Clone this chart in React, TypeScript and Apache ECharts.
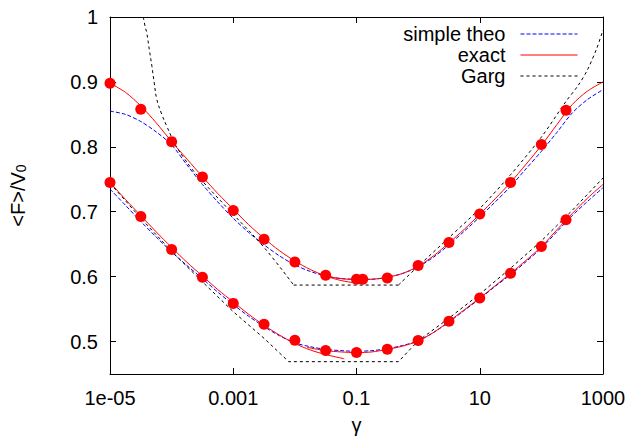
import React, { useEffect, useRef } from 'react';
import * as echarts from 'echarts';

// x tick labels (every two decades of gamma)
const xTickLabels = ['1e-05', '0.001', '0.1', '10', '1000'];

// quarter-decade gamma grid used by the theory curves
const gammaQ = [1e-5, 1.78e-5, 3.16e-5, 5.62e-5, 1e-4, 1.78e-4, 3.16e-4, 5.62e-4, 1e-3, 1.78e-3, 3.16e-3, 5.62e-3,
  0.01, 0.0178, 0.0316, 0.0562, 0.1, 0.178, 0.316, 0.562, 1, 1.78, 3.16, 5.62, 10, 17.8, 31.6, 56.2, 100, 178, 316, 562, 1000];

// simple theo
const simpleUpper = [0.855, 0.850, 0.839, 0.823, 0.803, 0.772, 0.742, 0.715, 0.690, 0.668, 0.649, 0.632, 0.618, 0.608, 0.601, 0.597,
  0.596, 0.596, 0.599, 0.605, 0.615, 0.630, 0.649, 0.670, 0.692, 0.715, 0.739, 0.766, 0.793, 0.822, 0.852, 0.873, 0.888];
const simpleLower = [0.735, 0.710, 0.685, 0.661, 0.638, 0.617, 0.597, 0.576, 0.557, 0.539, 0.523, 0.509, 0.498, 0.492, 0.488, 0.486,
  0.485, 0.486, 0.489, 0.494, 0.501, 0.514, 0.530, 0.548, 0.566, 0.585, 0.603, 0.623, 0.644, 0.669, 0.694, 0.716, 0.737];

// exact (low-gamma and high-gamma branches)
const exactUpperLowG = [1e-5, 1.78e-5, 3.16e-5, 5.62e-5, 1e-4, 1.78e-4, 3.16e-4, 5.62e-4, 1e-3, 1.78e-3, 3.16e-3, 5.62e-3,
  0.01, 0.0178, 0.0316, 0.0562, 0.1, 0.126];
const exactUpperLowV = [0.898, 0.884, 0.863, 0.837, 0.808, 0.781, 0.754, 0.728, 0.704, 0.680, 0.659, 0.640, 0.624, 0.611, 0.601, 0.594, 0.590, 0.589];
const exactUpperHighG = [0.0251, 0.0316, 0.0562, 0.1, 0.178, 0.316, 0.562, 1, 1.78, 3.16, 5.62, 10, 17.8, 31.6, 56.2, 100, 178, 316, 562, 1000];
const exactUpperHighV = [0.604, 0.601, 0.597, 0.5955, 0.596, 0.599, 0.605, 0.616, 0.632, 0.652, 0.673, 0.696, 0.720, 0.745, 0.773, 0.802, 0.834, 0.865, 0.886, 0.900];
const exactLowerLowG = [1e-5, 1.78e-5, 3.16e-5, 5.62e-5, 1e-4, 1.78e-4, 3.16e-4, 5.62e-4, 1e-3, 1.78e-3, 3.16e-3, 5.62e-3,
  0.01, 0.0178, 0.0316, 0.0631];
const exactLowerLowV = [0.745, 0.719, 0.694, 0.669, 0.645, 0.622, 0.601, 0.580, 0.561, 0.542, 0.525, 0.510, 0.497, 0.487, 0.480, 0.4735];
const exactLowerHighG = [0.0158, 0.0316, 0.0562, 0.1, 0.178, 0.316, 0.562, 1, 1.78, 3.16, 5.62, 10, 17.8, 31.6, 56.2, 100, 178, 316, 562, 1000];
const exactLowerHighV = [0.491, 0.486, 0.484, 0.483, 0.484, 0.488, 0.493, 0.501, 0.514, 0.531, 0.549, 0.567, 0.586, 0.605, 0.625, 0.646, 0.672, 0.697, 0.721, 0.742];

// Garg (upper: divergent left arm, flat floor, rising right arm)
const gargUpperLeftG = [3.47e-5, 3.72e-5, 3.94e-5, 4.37e-5, 4.79e-5, 5.25e-5, 5.75e-5, 6.92e-5, 8.32e-5, 1e-4, 1.2e-4, 1.58e-4, 2.09e-4,
  3.16e-4, 1e-3, 3.16e-3, 9.55e-3];
const gargUpperLeftV = [1.0, 0.985, 0.976, 0.948, 0.924, 0.897, 0.873, 0.850, 0.832, 0.815, 0.800, 0.783, 0.767,
  0.747, 0.696, 0.645, 0.587];
const gargUpperFlatG = [9.55e-3, 0.479];
const gargUpperFlatV = [0.587, 0.587];
const gargUpperRightG = [0.479, 1, 3.16, 10, 31.6, 100, 251, 398, 562, 794, 1000];
const gargUpperRightV = [0.587, 0.616, 0.660, 0.705, 0.757, 0.815, 0.870, 0.895, 0.919, 0.952, 0.980];
const gargLowerG = [1e-5, 3.16e-5, 1e-4, 3.16e-4, 1e-3, 3.16e-3, 7.94e-3, 0.479, 1, 3.16, 10, 31.6, 100, 316, 1000];
const gargLowerV = [0.744, 0.690, 0.639, 0.592, 0.546, 0.505, 0.469, 0.469, 0.501, 0.536, 0.573, 0.613, 0.655, 0.702, 0.752];

// simulation points
const pointsUpperG = [1e-5, 3.16e-5, 1e-4, 3.16e-4, 1e-3, 3.16e-3, 0.01, 0.0316, 0.1, 0.126, 0.316, 1, 3.16, 10, 31.6, 100, 251];
const pointsUpperV = [0.898, 0.858, 0.808, 0.7535, 0.702, 0.6577, 0.6226, 0.602, 0.5959, 0.596, 0.598, 0.617, 0.6525, 0.6964, 0.7452, 0.8035, 0.8565];
const pointsLowerG = [1e-5, 3.16e-5, 1e-4, 3.16e-4, 1e-3, 3.16e-3, 0.01, 0.0316, 0.1, 0.316, 1, 3.16, 10, 31.6, 100, 251];
const pointsLowerV = [0.745, 0.6927, 0.6417, 0.599, 0.5588, 0.5268, 0.502, 0.4862, 0.4831, 0.4882, 0.5016, 0.5314, 0.567, 0.6052, 0.6463, 0.6876];

const toX = (g: number) => Math.log10(g) + 5;
const pairs = (gs: number[], vs: number[]) => gs.map((g, i) => [toX(g), vs[i]]);

export default function App() {
  const ref = useRef<HTMLDivElement>(null);
  useEffect(() => {
    const chart = echarts.init(ref.current!, null, { renderer: 'svg' });
    const font = 'Liberation Sans';
    const fs = 20;
    const blue = '#0000ff';
    const red = '#ff0000';
    const black = '#000000';
    const mkLine = (name: string, data: number[][], color: string, type: any, smooth: any, z: number) => ({
      type: 'line', name, data, showSymbol: false, symbol: 'none', smooth, z,
      lineStyle: { color, width: 1, type }, itemStyle: { color },
    });
    const mkPts = (data: number[][]) => ({
      type: 'scatter', name: 'pts', data, symbol: 'circle', symbolSize: 11, clip: false, z: 10,
      itemStyle: { color: red, opacity: 1 },
    });
    const yFmt = (v: number) => {
      const r = Math.round(v * 10) / 10;
      if (Math.abs(v - r) > 1e-6) return '';
      return r === 1 ? '1' : r.toFixed(1);
    };
    const axisLine = { show: true, onZero: false, lineStyle: { color: black, width: 1 } };
    const axisTick = { show: true, inside: true, length: 6, lineStyle: { color: black, width: 1 } };
    chart.setOption({
      animation: false,
      textStyle: { fontFamily: font },
      grid: { left: 110, right: 29, top: 17, bottom: 65, containLabel: false, outerBoundsMode: 'none' },
      legend: {
        data: ['simple theo', 'exact', 'Garg'],
        orient: 'vertical', right: 54, top: 23.5, align: 'right',
        itemWidth: 57, itemHeight: 10, itemGap: 0, padding: 0,
        itemStyle: { color: 'rgba(0,0,0,0)', borderWidth: 0, opacity: 0 },
        lineStyle: { width: 1 },
        textStyle: { fontSize: fs, color: black, fontFamily: font, lineHeight: 21, padding: [0, 10, 0, 0] },
      },
      xAxis: [
        {
          type: 'value', min: 0, max: 8, interval: 2, position: 'bottom',
          axisLine, axisTick, splitLine: { show: false },
          axisLabel: { formatter: (v: number) => xTickLabels[Math.round(v / 2)] ?? '', color: black, fontSize: fs, margin: 14, fontFamily: font },
          name: 'γ', nameLocation: 'middle', nameGap: 41,
          nameTextStyle: { fontSize: fs, color: black, fontFamily: font },
        },
        {
          type: 'value', min: 0, max: 8, interval: 2, position: 'top',
          axisLine, axisTick, splitLine: { show: false }, axisLabel: { show: false },
        },
      ],
      yAxis: [
        {
          type: 'value', min: 0.45, max: 1, minInterval: 0.1, maxInterval: 0.1, position: 'left',
          axisLine, axisTick, splitLine: { show: false },
          axisLabel: { formatter: yFmt, color: black, fontSize: fs, margin: 12, fontFamily: font },
          name: '<F>/V{s|0}', nameLocation: 'middle', nameGap: 82,
          nameTextStyle: {
            fontSize: fs, color: black, fontFamily: font,
            rich: { s: { fontSize: 14, color: black, fontFamily: font, verticalAlign: 'bottom', lineHeight: 14, padding: [8, 0, 0, 0] } },
          },
        },
        {
          type: 'value', min: 0.45, max: 1, minInterval: 0.1, maxInterval: 0.1, position: 'right',
          axisLine, axisTick, splitLine: { show: false }, axisLabel: { show: false },
        },
      ],
      series: [
        mkLine('simple theo', pairs(gammaQ, simpleUpper), blue, [4, 2], 0.3, 2),
        mkLine('simple theo', pairs(gammaQ, simpleLower), blue, [4, 2], 0.3, 2),
        mkLine('exact', pairs(exactUpperLowG, exactUpperLowV), red, 'solid', 0.3, 3),
        mkLine('exact', pairs(exactUpperHighG, exactUpperHighV), red, 'solid', 0.3, 3),
        mkLine('exact', pairs(exactLowerLowG, exactLowerLowV), red, 'solid', 0.3, 3),
        mkLine('exact', pairs(exactLowerHighG, exactLowerHighV), red, 'solid', 0.3, 3),
        mkLine('Garg', pairs(gargUpperLeftG, gargUpperLeftV), black, [3, 3], 0.4, 4),
        mkLine('Garg', pairs(gargUpperFlatG, gargUpperFlatV), black, [3, 3], false, 4),
        mkLine('Garg', pairs(gargUpperRightG, gargUpperRightV), black, [3, 3], 0.3, 4),
        mkLine('Garg', pairs(gargLowerG, gargLowerV), black, [3, 3], false, 4),
        mkPts(pairs(pointsUpperG, pointsUpperV)),
        mkPts(pairs(pointsLowerG, pointsLowerV)),
      ],
    });
    return () => chart.dispose();
  }, []);
  return <div ref={ref} style={{ position: 'fixed', left: 0, top: 0, width: 632, height: 439, background: '#fff' }} />;
}
